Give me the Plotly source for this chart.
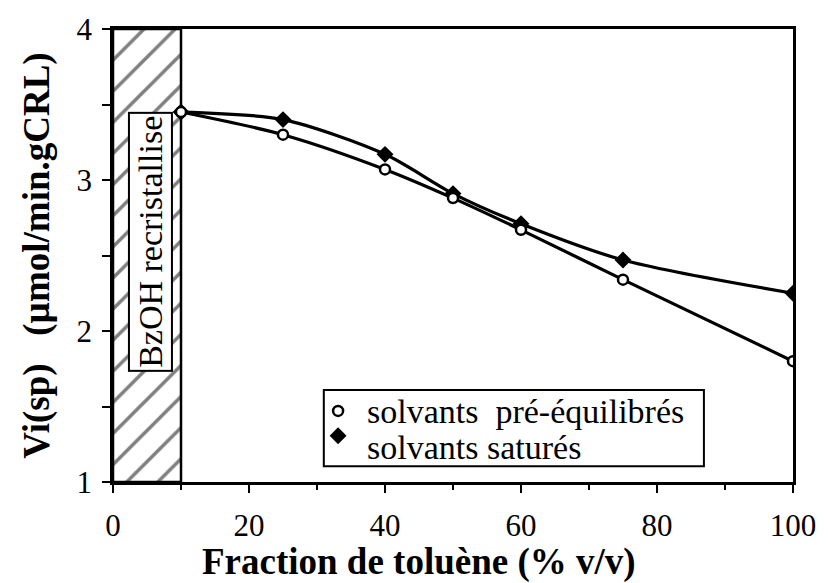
import plotly.graph_objects as go

# Toluene fraction (% v/v) and initial rates Vi(sp) (µmol/min.gCRL)
toluene = [10, 25, 40, 50, 60, 75, 100]
vi_pre_equilibrated = [3.45, 3.30, 3.07, 2.88, 2.67, 2.34, 1.80]
vi_saturated = [3.45, 3.40, 3.17, 2.91, 2.71, 2.47, 2.25]

# Range of toluene fraction where BzOH recrystallises
recryst_zone = [0, 10]

x_ticks = [0, 20, 40, 60, 80, 100]
y_ticks = [1, 2, 3, 4]
x_range = [0, 100]
y_range = [1, 4]

SERIF = "Liberation Serif, Times New Roman, serif"
NBSP = "\u00a0"

fig = go.Figure()

# Hatched recrystallisation zone
fig.add_trace(go.Scatter(
    x=[recryst_zone[0], recryst_zone[1], recryst_zone[1], recryst_zone[0], recryst_zone[0]],
    y=[y_range[0], y_range[0], y_range[1], y_range[1], y_range[0]],
    mode="lines", fill="toself",
    line=dict(color="black", width=2.5),
    fillcolor="white",
    fillpattern=dict(shape="/", fgcolor="black", bgcolor="white", size=22, solidity=0.16),
    hoverinfo="skip", showlegend=False,
))

fig.add_trace(go.Scatter(
    x=toluene, y=vi_saturated, mode="lines+markers",
    line=dict(color="black", width=3.2, shape="spline", smoothing=0.8),
    marker=dict(symbol="diamond", size=13, color="black"),
    showlegend=False,
))
fig.add_trace(go.Scatter(
    x=toluene, y=vi_pre_equilibrated, mode="lines+markers",
    line=dict(color="black", width=3.2, shape="spline", smoothing=0.8),
    marker=dict(symbol="circle", size=10, color="white", line=dict(color="black", width=2.5)),
    showlegend=False,
))

# Legend glyphs on an overlay axis spanning the plot area in [0, 1]
legend_labels = [f"solvants{NBSP}{NBSP}pré-équilibrés", "solvants saturés"]
legend_rows_y = [0.157, 0.102]
legend_text_y = [0.156, 0.077]
legend_marker_x = 0.331
legend_text_x = 0.370
fig.add_trace(go.Scatter(
    x=[legend_marker_x], y=[legend_rows_y[0]], xaxis="x2", yaxis="y2", mode="markers",
    marker=dict(symbol="circle", size=10, color="white", line=dict(color="black", width=2.5)),
    showlegend=False, hoverinfo="skip", cliponaxis=False,
))
fig.add_trace(go.Scatter(
    x=[legend_marker_x], y=[legend_rows_y[1]], xaxis="x2", yaxis="y2", mode="markers",
    marker=dict(symbol="diamond", size=13, color="black"),
    showlegend=False, hoverinfo="skip", cliponaxis=False,
))

fig.add_shape(type="rect", xref="paper", yref="paper",
              x0=0.310, x1=0.869, y0=0.035, y1=0.203,
              line=dict(color="black", width=2), fillcolor="white", layer="below")

for label, ty in zip(legend_labels, legend_text_y):
    fig.add_annotation(x=legend_text_x, y=ty, xref="paper", yref="paper",
                       text=label, showarrow=False, xanchor="left", yanchor="middle",
                       font=dict(family=SERIF, size=34, color="black"))

# Boxed label inside the hatched zone
fig.add_annotation(x=5.5, y=0.531, xref="x", yref="paper",
                   text="BzOH recristallise", textangle=-90, showarrow=False,
                   font=dict(family=SERIF, size=34, color="black"),
                   bgcolor="white", bordercolor="black", borderwidth=2, borderpad=2)

# X axis title, placed slightly left of the plot centre
fig.add_annotation(x=0.4495, y=-0.176, xref="paper", yref="paper",
                   text="<b>Fraction de toluène (% v/v)</b>", showarrow=False,
                   xanchor="center", yanchor="middle",
                   font=dict(family=SERIF, size=37, color="black"))

axis_common = dict(
    showline=True, linecolor="black", linewidth=2.5, mirror=True,
    showgrid=False, zeroline=False,
    ticks="outside", ticklen=8, tickwidth=2, tickcolor="black",
    tickfont=dict(family=SERIF, size=31, color="black"),
)

fig.update_layout(
    width=828, height=583, autosize=False,
    margin=dict(l=113, r=26, t=20, b=101),
    paper_bgcolor="white", plot_bgcolor="white",
    xaxis=dict(range=x_range, tickvals=x_ticks, **axis_common,
               minor=dict(dtick=10, ticklen=5, tickwidth=2, ticks="outside", tickcolor="black"),
               ticklabelstandoff=6),
    yaxis=dict(range=y_range, tickvals=y_ticks, **axis_common,
               minor=dict(dtick=0.5, ticklen=8, tickwidth=2, ticks="outside", tickcolor="black"),
               ticklabelstandoff=4,
               title=dict(text=f"<b>Vi(sp){NBSP}{NBSP}{NBSP}(µmol/min.gCRL)</b>",
                          font=dict(family=SERIF, size=37, color="black"), standoff=16)),
    xaxis2=dict(range=[0, 1], overlaying="x", visible=False, fixedrange=True),
    yaxis2=dict(range=[0, 1], overlaying="y", visible=False, fixedrange=True),
)

fig.write_html("out.html")
